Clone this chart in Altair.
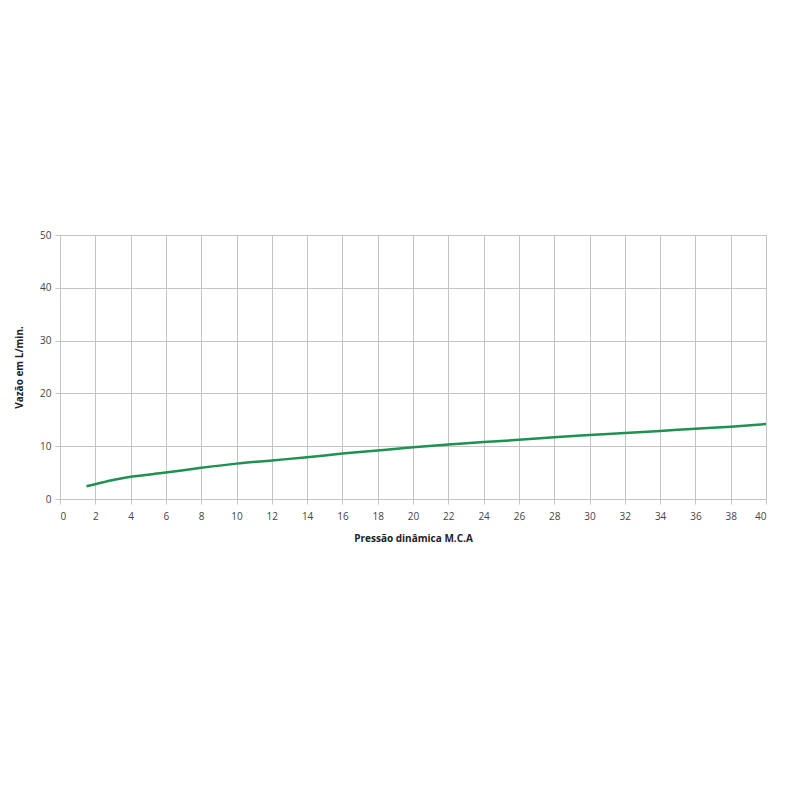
import altair as alt
import pandas as pd

pressao = [1.5, 2, 3, 4, 6, 8, 10, 12, 14, 16, 18, 20, 22, 24, 26, 28, 30, 32, 34, 36, 38, 40]
vazao = [2.4, 2.8, 3.6, 4.2, 5.0, 5.9, 6.7, 7.3, 7.9, 8.6, 9.2, 9.8, 10.3, 10.8, 11.2, 11.7, 12.1, 12.5, 12.9, 13.3, 13.7, 14.2]

df = pd.DataFrame({"p": pressao, "v": vazao})

chart = alt.Chart(df).mark_line(color="#1f9150", strokeWidth=2.5, interpolate="monotone").encode(
    x=alt.X("p:Q", title="Pressão dinâmica M.C.A",
            scale=alt.Scale(domain=[0, 40], nice=False),
            axis=alt.Axis(values=list(range(0, 41, 2)), tickSize=5, labelPadding=7,
                          titlePadding=12)),
    y=alt.Y("v:Q", title="Vazão em L/min.",
            scale=alt.Scale(domain=[0, 50], nice=False),
            axis=alt.Axis(values=list(range(0, 51, 10)), tickSize=5, labelPadding=4,
                          titlePadding=15)),
).properties(
    width=706, height=264,
    autosize=alt.AutoSizeParams(type="none"),
    padding={"left": 52, "top": 227, "right": 20, "bottom": 200},
).configure_axis(
    grid=True, gridColor="#c4c4c4", gridWidth=1,
    domainColor="#c4c4c4", tickColor="#c4c4c4",
    labelFont="Open Sans", labelFontSize=10, labelColor="#444444",
    titleFont="Open Sans", titleFontSize=10, titleFontWeight="bold", titleColor="#222222",
).configure_view(stroke=None)

chart.save("out.html", embed_options={"renderer": "svg", "actions": False})
